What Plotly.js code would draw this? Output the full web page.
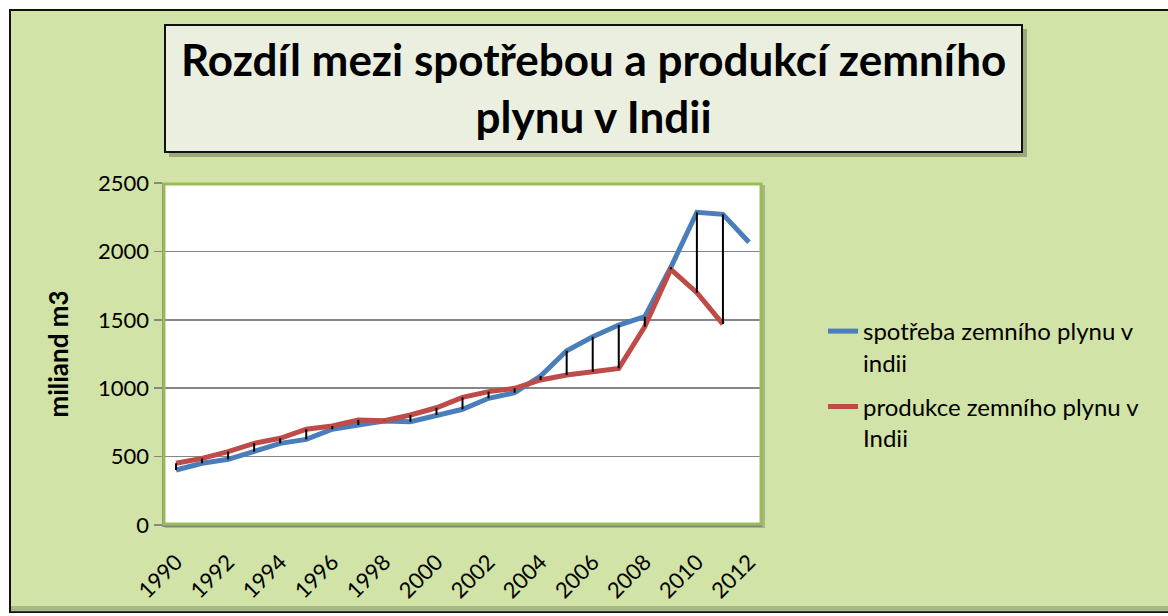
<!DOCTYPE html>
<html>
<head>
<meta charset="utf-8">
<script src="https://cdn.plot.ly/plotly-3.0.1.min.js"></script>
<style>html,body{margin:0;padding:0;background:#fff;}#chart{width:1168px;height:616px;}</style>
</head>
<body>
<div id="chart"></div>
<script>
const years = [1990,1991,1992,1993,1994,1995,1996,1997,1998,1999,2000,2001,2002,2003,2004,2005,2006,2007,2008,2009,2010,2011,2012];
const spotreba = [402,451,480,536,597,626,700,731,760,755,804,846,926,967,1089,1274,1376,1462,1523,1884,2286,2271,2067];
const produkce = [451,487,536,597,634,700,724,768,762,804,857,933,975,999,1060,1096,1121,1145,1450,1869,1698,1469,null];
const tickYears = [1990,1992,1994,1996,1998,2000,2002,2004,2006,2008,2010,2012];
const seriesNames = ["spotřeba zemního plynu v<br>indii","produkce zemního plynu v<br>Indii"];
const titleText = "Rozdíl mezi spotřebou a produkcí zemního<br>plynu v Indii";
const yTitle = "miliand m3";

// high-low lines built from the two series
const hlX = [], hlY = [];
for (let i = 0; i < years.length; i++) {
  if (spotreba[i] != null && produkce[i] != null) {
    hlX.push(years[i], years[i], null);
    hlY.push(spotreba[i], produkce[i], null);
  }
}

const L = 163, R = 762, T = 183, B = 525, W = 1168, H = 616;
const px = x => (x - L) / (R - L);
const py = y => (B - y) / (B - T);
const FONT = "Lato, 'Open Sans', sans-serif";

const traces = [
  {x: years, y: spotreba, type: 'scatter', mode: 'lines', name: seriesNames[0], legendgroup: 'a',
   line: {color: '#4a7ebb', width: 5}},
  {x: years, y: produkce, type: 'scatter', mode: 'lines', name: seriesNames[1], legendgroup: 'b',
   line: {color: '#be4b48', width: 5}},
  {x: hlX, y: hlY, type: 'scatter', mode: 'lines', showlegend: false, hoverinfo: 'skip',
   line: {color: '#000', width: 2}, connectgaps: false}
];

const layout = {
  width: W, height: H,
  margin: {l: L, r: W - R, t: T, b: H - B, pad: 0},
  paper_bgcolor: '#ffffff',
  plot_bgcolor: 'rgba(0,0,0,0)',
  font: {family: FONT, color: '#000', size: 23},
  showlegend: true,
  legend: {x: px(823), y: py(309), xanchor: 'left', yanchor: 'top', bgcolor: 'rgba(0,0,0,0)',
           font: {family: FONT, size: 24, color: '#000'}, tracegroupgap: 10, valign: 'top'},
  xaxis: {range: [1989.5, 2012.5], tickvals: tickYears, ticktext: tickYears.map(String),
          tickangle: -45, ticks: 'outside', ticklen: 14, tickcolor: 'rgba(0,0,0,0)',
          showgrid: false, zeroline: false,
          showline: true, linecolor: '#868686', linewidth: 1.5,
          tickfont: {family: FONT, size: 22, color: '#000'}},
  yaxis: {range: [0, 2500], dtick: 500, tick0: 0, ticks: 'outside', ticklen: 8, tickcolor: '#868686',
          tickwidth: 1.5, showgrid: true, gridcolor: '#868686', gridwidth: 1.5, zeroline: false,
          showline: true, linecolor: '#868686', linewidth: 1.5,
          tickfont: {family: FONT, size: 22, color: '#000'},
          title: {text: '<b>' + yTitle + '</b>', font: {family: FONT, size: 26, color: '#000'}, standoff: 22}},
  shapes: [
    {type: 'rect', xref: 'paper', yref: 'paper', layer: 'below',
     x0: px(10), x1: px(1175), y0: py(612), y1: py(10),
     fillcolor: '#d1e3a6', line: {color: '#111', width: 2}},
    {type: 'rect', xref: 'paper', yref: 'paper', layer: 'below',
     x0: px(11), x1: px(1175), y0: py(612), y1: py(606),
     fillcolor: 'rgba(120,130,100,0.45)', line: {width: 0}},
    {type: 'rect', xref: 'paper', yref: 'paper', layer: 'below',
     x0: px(L + 2), x1: px(R + 3), y0: py(B + 3), y1: py(T + 2),
     fillcolor: 'rgba(90,100,70,0.35)', line: {width: 0}},
    {type: 'rect', xref: 'paper', yref: 'paper', layer: 'below',
     x0: 0, x1: 1, y0: 0, y1: 1, fillcolor: '#ffffff', line: {width: 0}},
    {type: 'rect', xref: 'paper', yref: 'paper', layer: 'above',
     x0: px(L + 1), x1: px(R - 1), y0: py(B - 1), y1: py(T + 1),
     fillcolor: 'rgba(0,0,0,0)', line: {color: '#9bbb59', width: 3}},
    {type: 'rect', xref: 'paper', yref: 'paper', layer: 'below',
     x0: px(169), x1: px(1027), y0: py(157), y1: py(29),
     fillcolor: 'rgba(60,60,40,0.35)', line: {width: 0}},
    {type: 'rect', xref: 'paper', yref: 'paper', layer: 'below',
     x0: px(165), x1: px(1022), y0: py(152), y1: py(25),
     fillcolor: '#ebefdf', line: {color: '#111', width: 2}}
  ],
  annotations: [
    {xref: 'paper', yref: 'paper', x: px(593), y: py(87), xanchor: 'center', yanchor: 'middle',
     text: '<b>' + titleText + '</b>', showarrow: false, align: 'center',
     font: {family: FONT, size: 44, color: '#000'}}
  ]
};

Plotly.newPlot('chart', traces, layout, {displayModeBar: false, staticPlot: true});
</script>
</body>
</html>
